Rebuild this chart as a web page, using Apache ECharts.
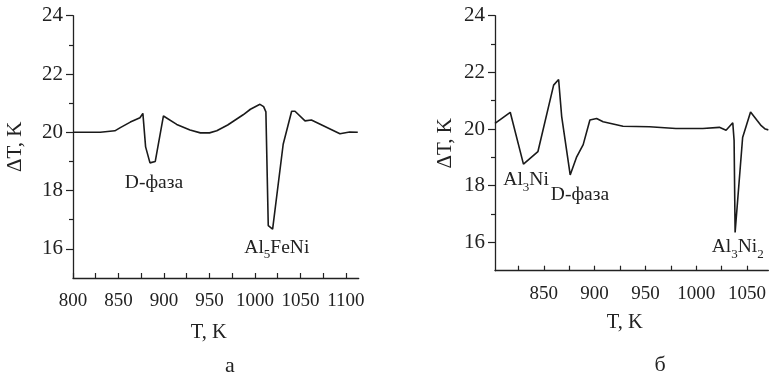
<!DOCTYPE html>
<html>
<head>
<meta charset="utf-8">
<script src="https://cdn.jsdelivr.net/npm/echarts@6/dist/echarts.min.js"></script>
<style>
html,body{margin:0;padding:0;background:#fff;}
#chart{width:769px;height:377px;}
</style>
</head>
<body>
<div id="chart"></div>
<script>
// ---- Data ----
// Panel а
var leftT  = [800, 830, 846, 852, 863, 873.6, 876.8, 879.8, 884.6, 890.4, 899.4, 914, 928.6, 940, 950, 958, 970, 987, 995, 1005.5, 1009.5, 1012, 1014.6, 1019.4, 1031, 1040.3, 1044, 1055, 1062, 1093.4, 1104, 1113];
var leftDT = [20.0, 20.0, 20.05, 20.16, 20.35, 20.5, 20.65, 19.5, 18.95, 19.0, 20.56, 20.27, 20.08, 19.98, 19.98, 20.05, 20.25, 20.6, 20.79, 20.96, 20.88, 20.7, 16.8, 16.68, 19.59, 20.72, 20.72, 20.39, 20.42, 19.95, 20.01, 20.0];
// Panel б
var rightT  = [802, 817, 830, 844.2, 859.7, 864.6, 867.6, 876, 882.4, 888.8, 895.4, 902, 908.4, 928, 954, 980, 1006.5, 1022.8, 1029.4, 1036, 1037.3, 1038.3, 1045.7, 1053.5, 1060, 1064, 1068, 1071];
var rightDT = [20.2, 20.59, 18.76, 19.2, 21.55, 21.75, 20.45, 18.38, 19.02, 19.45, 20.32, 20.37, 20.26, 20.1, 20.08, 20.02, 20.02, 20.06, 19.96, 20.22, 19.6, 16.35, 19.7, 20.6, 20.3, 20.12, 20.0, 19.97];

// Tick labels
var leftXLabels  = [800, 850, 900, 950, 1000, 1050, 1100];
var leftXTicks   = [800, 825, 850, 875, 900, 925, 950, 975, 1000, 1025, 1050, 1075, 1100];
var rightXLabels = [850, 900, 950, 1000, 1050];
var rightXTicks  = [825, 850, 875, 900, 925, 950, 975, 1000, 1025, 1050];
var yLabels      = [16, 18, 20, 22, 24];
var yMinorTicks  = [17, 19, 21, 23];

// Annotations: [T, ΔT, text]
var leftNotes  = [[889, 18.26, 'D-фаза'], [1024, 16.05, 'Al{s|5}FeNi']];
var rightNotes = [[832.6, 18.2, 'Al{s|3}Ni'], [885.6, 17.67, 'D-фаза'], [1040.9, 15.85, 'Al{s|3}Ni{s|2}']];

var FONT = "'Liberation Serif','Times New Roman',serif";
var INK = '#222';

function zip(a, b) { return a.map(function (v, i) { return [v, b[i]]; }); }
function plain(v) { return String(v); }

function xAxisCfg(grid, min, max, labels, ticks, gap) {
  return {
    gridIndex: grid, type: 'value', min: min, max: max,
    name: 'T, K', nameLocation: 'middle', nameGap: gap,
    nameTextStyle: { color: INK, fontFamily: FONT, fontSize: 20.5, padding: [0, 14, 0, 0] },
    axisLine: { show: true, onZero: false, lineStyle: { color: INK, width: 1.3 } },
    axisTick: { show: true, inside: true, length: 5, customValues: ticks, lineStyle: { color: INK, width: 1.2 } },
    axisLabel: { show: true, customValues: labels, formatter: plain, margin: 14, color: INK, fontFamily: FONT, fontSize: 19 },
    splitLine: { show: false }
  };
}
function yAxisCfg(grid, gap) {
  return {
    gridIndex: grid, type: 'value', min: 15, max: 24,
    name: 'ΔT, K', nameLocation: 'middle', nameGap: gap, nameRotate: 90,
    nameTextStyle: { color: INK, fontFamily: FONT, fontSize: 21 },
    axisLine: { show: true, onZero: false, lineStyle: { color: INK, width: 1.3 } },
    axisTick: { show: true, inside: false, length: 7, customValues: yLabels, lineStyle: { color: INK, width: 1.2 } },
    axisLabel: { show: true, customValues: yLabels, formatter: plain, margin: 10, color: INK, fontFamily: FONT, fontSize: 21 },
    splitLine: { show: false }
  };
}
function yMinorCfg(grid) {
  return {
    gridIndex: grid, type: 'value', min: 15, max: 24, position: 'left',
    axisLine: { show: false },
    axisTick: { show: true, inside: false, length: 4, customValues: yMinorTicks, lineStyle: { color: INK, width: 1.2 } },
    axisLabel: { show: false },
    splitLine: { show: false }
  };
}
function notes(list) {
  return {
    symbol: 'circle', symbolSize: 1, silent: true,
    itemStyle: { color: 'rgba(0,0,0,0)' },
    label: {
      show: true, position: 'inside',
      formatter: function (p) { return '{n|' + p.name.replace(/\{s\|(\w)\}/g, '}{s|$1}{n|') + '}'; },
      rich: {
        n: { fontFamily: FONT, fontSize: 19.5, color: INK, lineHeight: 22 },
        s: { fontFamily: FONT, fontSize: 13, color: INK, lineHeight: 15, padding: [15, 0, 0, 0] }
      }
    },
    data: list.map(function (d) { return { name: d[2], coord: [d[0], d[1]] }; })
  };
}

var chart = echarts.init(document.getElementById('chart'), null, { renderer: 'canvas' });
chart.setOption({
  animation: false,
  backgroundColor: '#fff',
  grid: [
    { left: 73, top: 15.7, width: 285.7, height: 262.3 },
    { left: 495, top: 15.7, width: 274, height: 255 }
  ],
  xAxis: [
    xAxisCfg(0, 800, 1114, leftXLabels, leftXTicks, 44),
    xAxisCfg(1, 802, 1071, rightXLabels, rightXTicks, 41)
  ],
  yAxis: [
    yAxisCfg(0, 47), yAxisCfg(1, 39), yMinorCfg(0), yMinorCfg(1)
  ],
  graphic: [
    { type: 'text', x: 230, y: 366, style: { text: 'а', font: '22px ' + FONT, fill: INK, align: 'center', verticalAlign: 'middle' } },
    { type: 'text', x: 660, y: 365, style: { text: 'б', font: '22px ' + FONT, fill: INK, align: 'center', verticalAlign: 'middle' } }
  ],
  series: [
    {
      type: 'line', xAxisIndex: 0, yAxisIndex: 0, data: zip(leftT, leftDT),
      symbol: 'none', lineStyle: { color: '#1a1a1a', width: 1.6 }, markPoint: notes(leftNotes)
    },
    {
      type: 'line', xAxisIndex: 1, yAxisIndex: 1, data: zip(rightT, rightDT),
      symbol: 'none', lineStyle: { color: '#1a1a1a', width: 1.6 }, markPoint: notes(rightNotes)
    }
  ]
});
</script>
</body>
</html>
